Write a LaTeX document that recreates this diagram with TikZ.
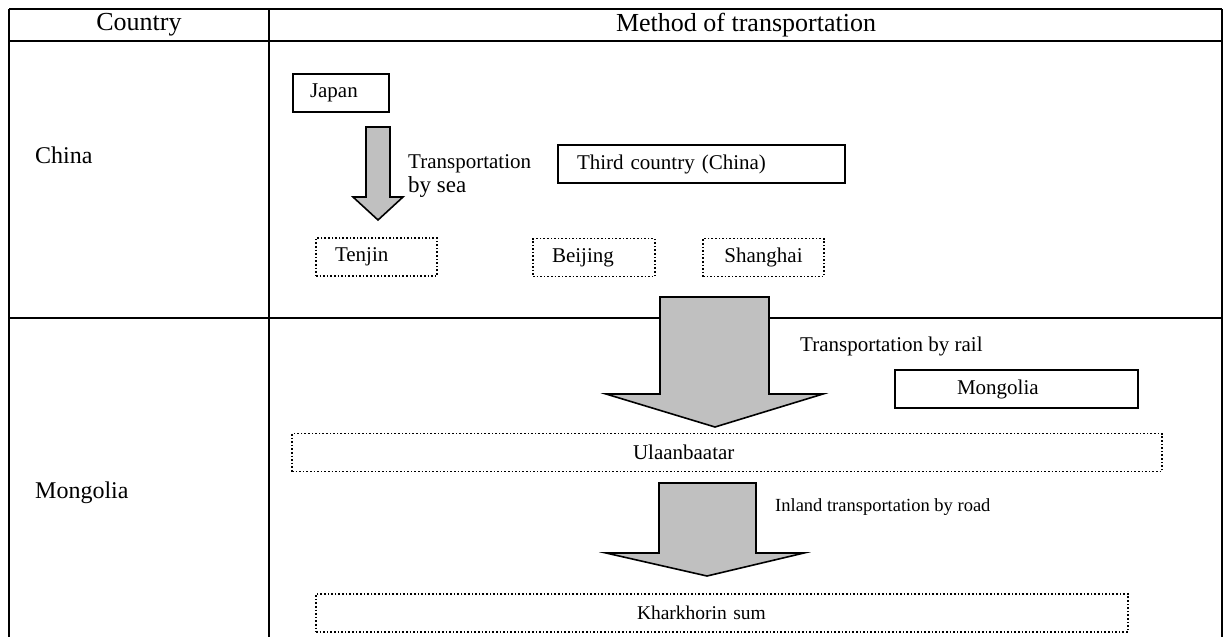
\documentclass[tikz,border=0pt]{standalone}
\usepackage{fontspec}
\setmainfont{Liberation Serif}
\usetikzlibrary{positioning}
\definecolor{arrowgrey}{RGB}{192,192,192}

\begin{document}
\begin{tikzpicture}[
    x=1pt, y=-1pt,
    grid/.style={line width=2.4pt},
    box/.style={draw, line width=1.6pt, minimum height=38pt, inner ysep=0pt, align=left, font=\fontsize{21}{24}\selectfont},
    place/.style={box, dotted, line width=1.3pt},
    blockarr/.style={draw, line width=1.6pt, fill=arrowgrey, line join=miter},
    lbl/.style={inner sep=0pt, font=\fontsize{21}{24}\selectfont}
  ]
  \useasboundingbox (0,0) rectangle (1225,637);
  % table
  \draw[grid] (9,9) -- (1222,9) (9,41) -- (1222,41) (9,318) -- (1222,318);
  \draw[grid] (9,9) -- (9,637) (269,9) -- (269,637) (1222,9) -- (1222,637);
  \node[lbl, font=\fontsize{26}{30}\selectfont] (hcountry) at (139,25) {Country};
  \node[lbl, font=\fontsize{26}{30}\selectfont] (hmethod)  at (746,25) {Method of transportation};
  \node[lbl, font=\fontsize{24}{28}\selectfont, anchor=west] (rchina) at (35,155) {China};
  \node[lbl, font=\fontsize{24}{28}\selectfont, anchor=west] (rmongolia) at (35,493) {Mongolia};

  % China row
  \node[box, inner xsep=17pt, text width=62pt]  (japan)    at (341,93)    {Japan};
  \node[box, inner xsep=19pt, text width=249pt] (third)    at (701.5,164) {Third country (China)};
  \node[place, inner xsep=19pt, text width=83pt] (tenjin)  at (376.5,257) {Tenjin};
  \node[place, inner xsep=19pt, text width=84pt] (beijing) at (594,257.5) {Beijing};
  \node[place, inner xsep=19pt, text width=83pt, align=center] (shanghai) at (763.5,257.5) {Shanghai};
  \draw[blockarr] (366,127) -- (390,127) -- (390,197) -- (403,197) -- (378,220) -- (353,197) -- (366,197) -- cycle;
  \node[lbl, anchor=base west] (seatxt) at (408,168) {Transportation};
  \node[lbl, anchor=base west, font=\fontsize{23}{26}\selectfont] (seatxtb) at (408,192) {by sea};

  % Mongolia row
  \draw[blockarr] (660,297) -- (769,297) -- (769,394) -- (823,394) -- (715,427) -- (606,394) -- (660,394) -- cycle;
  \node[lbl, anchor=west] (railtxt) at (800,346) {Transportation by rail};
  \node[box, inner xsep=62pt, text width=119pt] (mongolia) at (1016.5,389) {Mongolia};
  \node[place, inner xsep=341pt, text width=188pt] (ulaan) at (727,452.5) {Ulaanbaatar};
  \draw[blockarr] (659,483) -- (756,483) -- (756,553) -- (804,553) -- (707,576) -- (606,553) -- (659,553) -- cycle;
  \node[lbl, anchor=west, font=\fontsize{18.5}{22}\selectfont] (roadtxt) at (775,507) {Inland transportation by road};
  \node[place, inner xsep=321pt, text width=170pt, font=\fontsize{19.5}{23}\selectfont] (khar) at (722,613) {Kharkhorin sum};
\end{tikzpicture}
\end{document}
